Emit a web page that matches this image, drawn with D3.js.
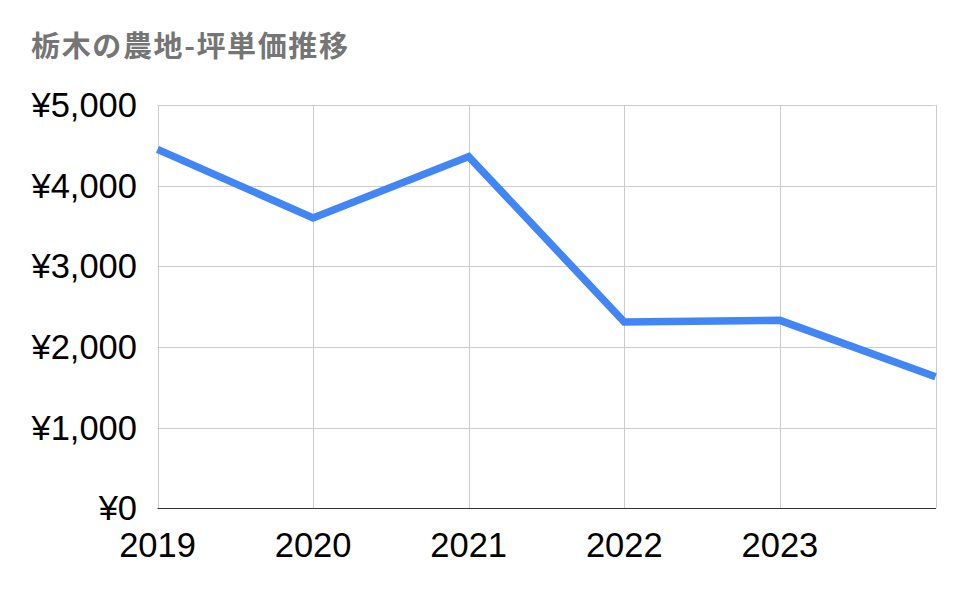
<!DOCTYPE html>
<html><head><meta charset="utf-8">
<script src="https://cdn.jsdelivr.net/npm/d3@7"></script>
<style>html,body{margin:0;padding:0;background:#fff;}svg{display:block;}</style>
</head><body>
<svg id="chart" width="965" height="597"></svg>
<script>
const title = "栃木の農地-坪単価推移";
const categories = ["2019","2020","2021","2022","2023","2024"];
const xTickLabels = ["2019","2020","2021","2022","2023",""];
const prices = [4450, 3600, 4360, 2310, 2330, 1630];
const yTicks = [0, 1000, 2000, 3000, 4000, 5000];

const svg = d3.select("#chart");
const m = {left:157.5, right:935.5, top:105, bottom:508.3};
const x = d3.scaleLinear().domain([0, categories.length-1]).range([m.left, m.right]);
const y = d3.scaleLinear().domain([0, 5000]).range([m.bottom, m.top]);
const fmt = v => "¥" + d3.format(",")(v);

svg.append("rect").attr("width",965).attr("height",597).attr("fill","#fff");

// horizontal grid
svg.append("g").selectAll("line").data(yTicks.filter(d=>d>0)).join("line")
  .attr("x1", m.left).attr("x2", m.right)
  .attr("y1", d=>Math.round(y(d))+0.5).attr("y2", d=>Math.round(y(d))+0.5)
  .attr("stroke","#cccccc").attr("stroke-width",1);
// vertical grid
svg.append("g").selectAll("line").data(categories.map((c,i)=>i)).join("line")
  .attr("x1", d=>Math.round(x(d))+0.5).attr("x2", d=>Math.round(x(d))+0.5)
  .attr("y1", m.top).attr("y2", m.bottom)
  .attr("stroke","#cccccc").attr("stroke-width",1);
// baseline
svg.append("line").attr("x1", m.left).attr("x2", m.right+0.5)
  .attr("y1", Math.round(y(0))+0.5).attr("y2", Math.round(y(0))+0.5)
  .attr("stroke","#333333").attr("stroke-width",1);

// y labels
svg.append("g").selectAll("text").data(yTicks).join("text")
  .attr("x", 137).attr("y", d=>y(d)+12)
  .attr("text-anchor","end")
  .attr("font-family","'Liberation Sans', Arial, sans-serif")
  .attr("font-size", 34.5).attr("fill","#000")
  .text(fmt);

// x labels
svg.append("g").selectAll("text").data(xTickLabels).join("text")
  .attr("x", (d,i)=>x(i)).attr("y", 557)
  .attr("text-anchor","middle")
  .attr("font-family","'Liberation Sans', Arial, sans-serif")
  .attr("font-size", 34.5).attr("fill","#000")
  .text(d=>d);

// line
const line = d3.line().x((d,i)=>x(i)).y(d=>y(d));
svg.append("path").datum(prices)
  .attr("d", line).attr("fill","none")
  .attr("stroke","#4285f4").attr("stroke-width",7.5)
  .attr("stroke-linejoin","miter");

// title
svg.append("text").attr("x", 31).attr("y", 57)
  .attr("font-family","'Noto Sans CJK JP', sans-serif")
  .attr("font-weight","bold").attr("font-size", 29)
  .attr("fill","#757575")
  .attr("textLength", 317).attr("lengthAdjust","spacing")
  .text(title);
</script>
</body></html>
